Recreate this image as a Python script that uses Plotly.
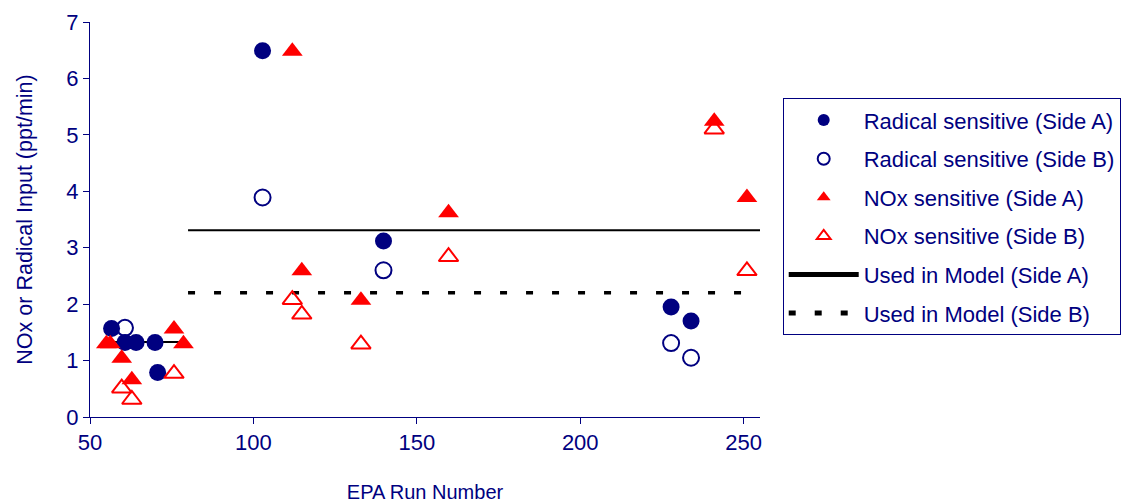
import plotly.graph_objects as go

NAVY = "#000080"
RED = "#FF0000"

rad_a_x = [56.6, 60.7, 64.1, 69.9, 70.7, 102.8, 139.8, 227.8, 233.9]
rad_a_y = [1.57, 1.32, 1.32, 1.32, 0.79, 6.49, 3.12, 1.95, 1.70]

rad_b_x = [60.7, 102.8, 139.8, 227.8, 233.9]
rad_b_y = [1.58, 3.89, 2.60, 1.31, 1.05]

nox_a_x = [55.0, 56.2, 59.7, 62.8, 75.7, 78.6, 111.9, 114.8, 132.9, 159.7, 241.0, 251.0]
nox_a_y = [1.30, 1.30, 1.04, 0.66, 1.56, 1.30, 6.48, 2.59, 2.07, 3.62, 5.24, 3.89]

nox_b_x = [59.7, 62.8, 75.7, 111.9, 114.8, 132.9, 159.7, 241.0, 251.0]
nox_b_y = [0.51, 0.31, 0.77, 2.08, 1.82, 1.29, 2.84, 5.10, 2.59]

model_a_x = [55, 80, None, 80, 255]
model_a_y = [1.33, 1.33, None, 3.31, 3.31]

model_b_x = [80, 255]
model_b_y = [2.2, 2.2]

fig = go.Figure()
fig.add_trace(go.Scatter(x=model_a_x, y=model_a_y, mode="lines", name="Used in Model (Side A)",
                         line=dict(color="black", width=2), legendrank=5, legendgroup="e"))
fig.add_trace(go.Scatter(x=model_b_x, y=model_b_y, mode="lines", name="Used in Model (Side B)",
                         line=dict(color="black", width=3.5, dash="7px,19px"), legendrank=6, legendgroup="f"))
fig.add_trace(go.Scatter(x=rad_a_x, y=rad_a_y, mode="markers", name="Radical sensitive (Side A)",
                         marker=dict(symbol="circle", size=17, color=NAVY, line=dict(width=0)),
                         legendrank=1, legendgroup="a"))
fig.add_trace(go.Scatter(x=rad_b_x, y=rad_b_y, mode="markers", name="Radical sensitive (Side B)",
                         marker=dict(symbol="circle-open", size=16, color=NAVY, line=dict(width=2, color=NAVY)),
                         legendrank=2, legendgroup="b"))
fig.add_trace(go.Scatter(x=nox_a_x, y=nox_a_y, mode="markers", name="NOx sensitive (Side A)",
                         marker=dict(symbol="triangle-up", size=18, color=RED, line=dict(width=0)),
                         legendrank=3, legendgroup="c"))
fig.add_trace(go.Scatter(x=nox_b_x, y=nox_b_y, mode="markers", name="NOx sensitive (Side B)",
                         marker=dict(symbol="triangle-up-open", size=17, color=RED, line=dict(width=2, color=RED)),
                         legendrank=4, legendgroup="d"))

font_family = "Liberation Sans, Arial, sans-serif"

fig.update_layout(
    width=1122, height=503,
    margin=dict(l=90, r=362, t=21.5, b=85.5),
    paper_bgcolor="white", plot_bgcolor="white",
    font=dict(family=font_family, color=NAVY, size=22),
    showlegend=True,
    legend=dict(
        xref="container", yref="container",
        x=0.6976, y=0.8046, xanchor="left", yanchor="top",
        bordercolor=NAVY, borderwidth=1, bgcolor="white",
        font=dict(size=22, color=NAVY, family=font_family),
        itemsizing="constant", traceorder="grouped", tracegroupgap=7,
        itemwidth=70,
    ),
    xaxis=dict(
        range=[50, 255], tickvals=[50, 100, 150, 200, 250],
        showgrid=False, zeroline=False, showline=True, linecolor=NAVY, linewidth=1,
        ticks="outside", ticklen=6, tickcolor=NAVY, automargin=False,
        tickfont=dict(size=22, color=NAVY),
        title=dict(text="EPA Run Number", font=dict(size=20, color=NAVY), standoff=30),
    ),
    yaxis=dict(
        range=[0, 7], tickvals=[0, 1, 2, 3, 4, 5, 6, 7],
        showgrid=False, zeroline=False, showline=True, linecolor=NAVY, linewidth=1,
        ticks="outside", ticklen=6, tickcolor=NAVY, automargin=False,
        tickfont=dict(size=22, color=NAVY),
        title=dict(text="NOx or Radical Input (ppt/min)", font=dict(size=21.5, color=NAVY), standoff=27),
    ),
)

fig.write_html("out.html")
